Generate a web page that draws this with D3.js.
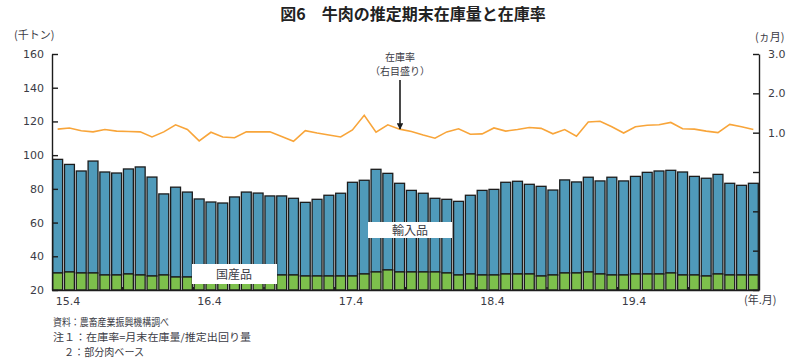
<!DOCTYPE html>
<html>
<head>
<meta charset="utf-8">
<script src="https://cdn.jsdelivr.net/npm/d3@7"></script>
<style>
  body { margin: 0; background: #fff; }
  svg { display: block; }
  text { font-family: "DejaVu Sans", sans-serif; }
  .jp { font-family: "Noto Sans CJK JP", sans-serif; }
</style>
</head>
<body>
<svg id="chart"></svg>
<script>
// months 2015.4 - 2020.3
const months = [];
for (let i = 0; i < 60; i++) {
  const yy = 15 + Math.floor((i + 3) / 12);
  const mm = ((i + 3) % 12) + 1;
  months.push(yy + "." + mm);
}
const xTickLabels = ["15.4", "16.4", "17.4", "18.4", "19.4"];
const leftTicks = [20, 40, 60, 80, 100, 120, 140, 160];
const rightTicks = [-3, -2, -1, 0, 1, 2, 3];

// 千トン
const domestic = [30.1, 30.7, 30.1, 30.1, 28.9, 28.9, 29.5, 28.9, 28.3, 28.9, 27.7, 27.7,
  28.0, 28.3, 28.3, 28.3, 28.9, 28.9, 28.9, 28.9, 28.9, 28.3, 28.3, 28.3,
  28.3, 28.3, 29.5, 30.7, 31.9, 30.7, 30.7, 30.7, 30.7, 30.1, 28.9, 29.5,
  28.9, 28.9, 29.5, 29.5, 29.5, 28.3, 28.9, 30.1, 30.1, 30.7, 29.5, 28.9,
  28.9, 29.5, 29.5, 29.5, 30.1, 28.9, 28.9, 28.3, 29.5, 28.9, 28.9, 28.9];
const imported = [67.4, 63.8, 60.5, 66.4, 61.1, 60.5, 62.3, 64.1, 58.7, 48.1, 53.3, 50.4,
  46.0, 43.9, 43.3, 46.9, 49.2, 48.6, 46.9, 46.9, 45.5, 43.7, 45.5, 47.9,
  49.1, 55.6, 55.6, 60.9, 57.3, 52.6, 48.4, 46.7, 43.7, 43.7, 43.7, 46.7,
  50.2, 50.8, 54.4, 55.0, 53.2, 53.2, 50.4, 55.2, 54.0, 56.2, 55.2, 58.0,
  55.8, 57.9, 60.3, 61.1, 60.9, 61.1, 58.5, 58.0, 59.1, 54.4, 53.2, 54.4];
// ヵ月
const stockRatio = [1.09, 1.12, 1.05, 1.02, 1.08, 1.04, 1.03, 1.02, 0.89, 1.02, 1.20, 1.08,
  0.79, 1.01, 0.89, 0.87, 1.02, 1.02, 1.02, 0.90, 0.78, 1.05, 0.99, 0.94,
  0.89, 1.07, 1.44, 1.01, 1.20, 1.09, 1.03, 0.94, 0.86, 1.02, 1.10, 0.96,
  0.97, 1.12, 1.04, 1.08, 1.13, 1.11, 0.97, 1.08, 0.91, 1.27, 1.29, 1.15,
  0.99, 1.15, 1.19, 1.20, 1.26, 1.10, 1.09, 1.04, 1.00, 1.21, 1.15, 1.08];

const width = 800, height = 361;
const marginLeft = 52, plotRight = 759, marginTop = 54, plotBottom = 290;
const textColor = "#3b3b45";

const svg = d3.select("#chart").attr("width", width).attr("height", height);

const x = d3.scaleBand().domain(months).range([marginLeft, plotRight]).paddingInner(0.16).paddingOuter(0.06);
const y = d3.scaleLinear().domain([20, 160]).range([plotBottom, marginTop]);
const yR = d3.scaleLinear().domain([-3, 3]).range([plotBottom, marginTop]);

const rows = months.map((m, i) => ({ m, dom: domestic[i], tot: domestic[i] + imported[i], r: stockRatio[i] }));

// bars
const bars = svg.append("g").attr("stroke", "#1c1c1c").attr("stroke-width", 1.3);
bars.selectAll("rect.imp").data(rows).join("rect")
  .attr("class", "imp")
  .attr("x", d => x(d.m))
  .attr("width", x.bandwidth())
  .attr("y", d => y(d.tot))
  .attr("height", d => y(d.dom) - y(d.tot))
  .attr("fill", "#4f9aba");
bars.selectAll("rect.dom").data(rows).join("rect")
  .attr("class", "dom")
  .attr("x", d => x(d.m))
  .attr("width", x.bandwidth())
  .attr("y", d => y(d.dom))
  .attr("height", d => y(20) - y(d.dom))
  .attr("fill", "#7dc04c");

// stock ratio line
svg.append("path")
  .datum(rows)
  .attr("fill", "none")
  .attr("stroke", "#f8a53a")
  .attr("stroke-width", 1.6)
  .attr("d", d3.line().x(d => x(d.m) + x.bandwidth() / 2).y(d => yR(d.r)));

// axes
const gl = svg.append("g").attr("transform", `translate(${marginLeft},0)`)
  .call(d3.axisLeft(y).tickValues(leftTicks).tickSize(-6).tickSizeOuter(0).tickPadding(8));
const gr = svg.append("g").attr("transform", `translate(${plotRight},0)`)
  .call(d3.axisRight(yR).tickValues(rightTicks).tickSize(-6).tickSizeOuter(0).tickPadding(9)
    .tickFormat(d => d > 0 ? d3.format(".1f")(d) : ""));
const gb = svg.append("g").attr("transform", `translate(0,${plotBottom})`)
  .call(d3.axisBottom(x).tickValues(months.filter((m, i) => i % 6 == 0 && i > 0)).tickSize(-3).tickSizeOuter(0).tickFormat(""));
gb.selectAll(".tick").attr("transform", d => `translate(${x(d) - x.step() * x.paddingInner() / 2},0)`);

[gl, gr, gb].forEach(g => {
  g.select(".domain").attr("stroke", "#1c1c1c").attr("stroke-width", 1.4);
  g.selectAll(".tick line").attr("stroke", "#1c1c1c").attr("stroke-width", 1.4);
  g.selectAll(".tick text").attr("fill", textColor).attr("font-size", 11)
    .attr("font-family", "DejaVu Sans");
});

// x labels
svg.append("g").selectAll("text").data(xTickLabels).join("text")
  .attr("x", d => x(months[months.indexOf(d)]) + 3)
  .attr("y", 305)
  .attr("font-size", 11)
  .attr("fill", textColor)
  .text(d => d);

const label = (t, px, py, size, anchor, opts = {}) => {
  const el = svg.append("text").attr("class", "jp")
    .attr("x", px).attr("y", py)
    .attr("font-size", size)
    .attr("text-anchor", anchor || "start")
    .attr("fill", opts.fill || textColor)
    .text(t);
  if (opts.bold) el.attr("font-weight", "bold");
  if (opts.len) el.attr("textLength", opts.len).attr("lengthAdjust", "spacingAndGlyphs");
  return el;
};

label("図6　牛肉の推定期末在庫量と在庫率", 413, 20, 16, "middle", { bold: true, fill: "#222" });
label("(千トン)", 14, 39, 11, "start");
label("(ヵ月)", 755, 41, 11, "start");
label("(年.月)", 744, 304, 11, "start");

// annotation
label("在庫率", 400, 61, 10, "middle");
label("（右目盛り）", 400, 75, 10, "middle");
svg.append("defs").append("marker")
  .attr("id", "arrow").attr("viewBox", "0 0 10 10")
  .attr("refX", 9).attr("refY", 5)
  .attr("markerWidth", 4).attr("markerHeight", 4)
  .attr("orient", "auto")
  .append("path").attr("d", "M0,0L10,5L0,10z").attr("fill", "#1c1c1c");
svg.append("line")
  .attr("x1", 400).attr("x2", 400).attr("y1", 80).attr("y2", 129)
  .attr("stroke", "#1c1c1c").attr("stroke-width", 1.6)
  .attr("marker-end", "url(#arrow)");

// series labels in white boxes
svg.append("rect").attr("x", 192).attr("y", 264).attr("width", 85).attr("height", 20).attr("fill", "#fff");
label("国産品", 234, 279, 12, "middle");
svg.append("rect").attr("x", 368).attr("y", 222).attr("width", 84).attr("height", 16).attr("fill", "#fff");
label("輸入品", 410, 235, 12, "middle");

// notes
label("資料：農畜産業振興機構調べ", 53, 326, 10, "start", { len: 116 });
label("注１：在庫率=月末在庫量/推定出回り量", 53, 341, 10, "start", { len: 198 });
label("２：部分肉ベース", 64, 356, 10, "start", { len: 80 });
</script>
</body>
</html>
